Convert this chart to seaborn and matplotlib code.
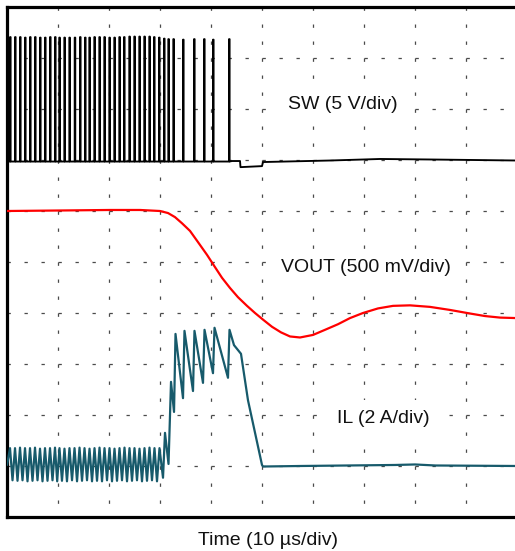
import numpy as np
import pandas as pd
import matplotlib
matplotlib.use("Agg")
import matplotlib.pyplot as plt
import seaborn as sns

# ---------------- data (screen divisions: x 0..10, y 0..10) ----------------
# SW trace: pulse positions and pulse tops, baseline and post-switching tail
sw_pulse_t = [0.059, 0.157, 0.255, 0.353, 0.451, 0.549, 0.647, 0.745, 0.843, 0.941,
              1.025, 1.124, 1.222, 1.327, 1.431, 1.529, 1.614, 1.712, 1.810, 1.908,
              2.006, 2.104, 2.202, 2.294, 2.398, 2.496, 2.594, 2.692, 2.790, 2.882,
              2.980, 3.078, 3.163, 3.261, 3.451, 3.667, 3.863, 4.039, 4.353]
sw_pulse_top = [9.41, 9.41, 9.41, 9.40, 9.41, 9.41, 9.40, 9.40, 9.41, 9.41,
                9.40, 9.40, 9.40, 9.40, 9.41, 9.40, 9.40, 9.41, 9.41, 9.41,
                9.40, 9.40, 9.41, 9.41, 9.42, 9.42, 9.42, 9.42, 9.42, 9.41,
                9.40, 9.38, 9.37, 9.37, 9.36, 9.37, 9.37, 9.36, 9.37]
sw_base = 6.97
sw_tail_t = [4.412, 4.569, 4.578, 5.000, 5.020, 6.333, 7.314, 8.294, 10.0]
sw_tail_v = [6.98, 6.98, 6.86, 6.88, 6.96, 6.99, 7.02, 7.01, 6.99]

# VOUT trace
vout_t = [0.0, 1.039, 2.020, 2.608, 3.000, 3.157, 3.294, 3.431, 3.588, 3.745,
          3.922, 4.078, 4.216, 4.373, 4.529, 4.706, 4.863, 5.020, 5.196, 5.373,
          5.549, 5.745, 6.000, 6.235, 6.490, 6.725, 6.980, 7.275, 7.569, 7.902,
          8.294, 8.686, 9.078, 9.373, 9.667, 10.0]
vout_v = [6.00, 6.01, 6.02, 6.02, 6.00, 5.96, 5.88, 5.76, 5.61, 5.39,
          5.14, 4.90, 4.69, 4.49, 4.31, 4.14, 4.00, 3.87, 3.73, 3.62,
          3.54, 3.52, 3.57, 3.67, 3.78, 3.90, 4.00, 4.09, 4.14, 4.15,
          4.12, 4.06, 3.99, 3.94, 3.91, 3.90]

# IL trace
il_t = [0.0, 0.059, 0.108, 0.157, 0.206, 0.255, 0.304, 0.353, 0.402, 0.451,
        0.500, 0.549, 0.598, 0.647, 0.696, 0.745, 0.794, 0.843, 0.892, 0.941,
        0.984, 1.029, 1.078, 1.127, 1.176, 1.225, 1.275, 1.324, 1.373, 1.422,
        1.471, 1.520, 1.569, 1.618, 1.667, 1.716, 1.765, 1.814, 1.863, 1.912,
        1.961, 2.010, 2.059, 2.108, 2.157, 2.206, 2.255, 2.304, 2.353, 2.402,
        2.451, 2.500, 2.549, 2.598, 2.647, 2.696, 2.745, 2.794, 2.843, 2.892,
        2.941, 2.990, 3.059,
        3.098, 3.167, 3.216, 3.275, 3.304, 3.451, 3.480, 3.647, 3.676, 3.843,
        3.873, 4.039, 4.069, 4.333, 4.363, 4.451, 4.588, 4.725, 5.000, 5.020,
        5.745, 7.608, 8.000, 8.400, 10.0]
il_v = [1.02, 1.35, 0.72, 1.35, 0.71, 1.36, 0.72, 1.35, 0.70, 1.35,
        0.71, 1.36, 0.72, 1.34, 0.70, 1.35, 0.71, 1.35, 0.72, 1.36,
        0.70, 1.35, 0.71, 1.34, 0.70, 1.35, 0.72, 1.35, 0.70, 1.36,
        0.71, 1.35, 0.72, 1.34, 0.70, 1.35, 0.71, 1.36, 0.70, 1.35,
        0.72, 1.35, 0.70, 1.34, 0.71, 1.35, 0.72, 1.36, 0.70, 1.35,
        0.71, 1.35, 0.72, 1.34, 0.70, 1.35, 0.71, 1.36, 0.72, 1.35,
        0.70, 1.35, 0.77,
        1.65, 1.04, 2.65, 2.06, 3.59, 2.33, 3.65, 2.47, 3.65, 2.63,
        3.67, 2.82, 3.71, 2.73, 3.67, 3.37, 3.20, 2.29, 1.02, 0.99,
        1.00, 1.02, 1.03, 1.01, 1.00]

trace_labels = ["SW (5 V/div)", "VOUT (500 mV/div)", "IL (2 A/div)"]
x_label = "Time (10 µs/div)"

# ---------------- build long tables ----------------
pw = 0.012
sw_x, sw_y = [0.0], [sw_base]
for t, h in zip(sw_pulse_t, sw_pulse_top):
    sw_x += [t, t, t + pw, t + pw]
    sw_y += [sw_base, h, h, sw_base]
sw_x += sw_tail_t
sw_y += sw_tail_v
sw_df = pd.DataFrame({"t": sw_x, "v": sw_y})
vout_df = pd.DataFrame({"t": vout_t, "v": vout_v})
il_df = pd.DataFrame({"t": il_t, "v": il_v})

# ---------------- style ----------------
sns.set_style("white")
plt.rcParams["font.family"] = ["Liberation Sans", "DejaVu Sans"]
plt.rcParams["lines.scale_dashes"] = False

W, H = 515, 551
fig = plt.figure(figsize=(W / 100, H / 100), dpi=100)
ax = fig.add_axes([7 / W, 34 / H, 510 / W, 510 / H])
ax.set_xlim(0, 10)
ax.set_ylim(0, 10)

# dashed graticule
gcol = "#4a4a4a"
dash = (0, (2.4, 9.84))
for k in range(1, 10):
    ax.plot([k, k], [10, 0], color=gcol, lw=0.9, ls=dash,
            dash_capstyle="butt", zorder=1)
    ax.plot([0, 10], [k, k], color=gcol, lw=0.9, ls=dash,
            dash_capstyle="butt", zorder=1)

sns.lineplot(data=sw_df, x="t", y="v", sort=False, estimator=None,
             color="black", lw=1.35, ax=ax, zorder=3)
sns.lineplot(data=vout_df, x="t", y="v", sort=False, estimator=None,
             color="#ff0000", lw=1.6, ax=ax, zorder=3)
sns.lineplot(data=il_df, x="t", y="v", sort=False, estimator=None,
             color="#175a6b", lw=1.6, ax=ax, zorder=3)

ax.set_xticks([])
ax.set_yticks([])
ax.set_xlabel("")
ax.set_ylabel("")
for s in ["left", "top", "bottom"]:
    ax.spines[s].set_visible(True)
    ax.spines[s].set_color("black")
    ax.spines[s].set_linewidth(2.3)
ax.spines["right"].set_visible(False)

def px(x, y):
    return x / W, 1 - y / H

fs = 14
box = dict(facecolor="white", edgecolor="none", pad=7)
fig.text(*px(342.5, 109), trace_labels[0], ha="center", va="baseline",
         fontsize=fs, color="#111111", bbox=box, zorder=2)
fig.text(*px(366, 272), trace_labels[1], ha="center", va="baseline",
         fontsize=fs, color="#111111", bbox=box, zorder=2)
fig.text(*px(383, 423), trace_labels[2], ha="center", va="baseline",
         fontsize=fs, color="#111111", bbox=box, zorder=2)
fig.text(*px(268, 545), x_label, ha="center", va="baseline",
         fontsize=fs, color="#111111")

fig.savefig("out.png", dpi=100)
